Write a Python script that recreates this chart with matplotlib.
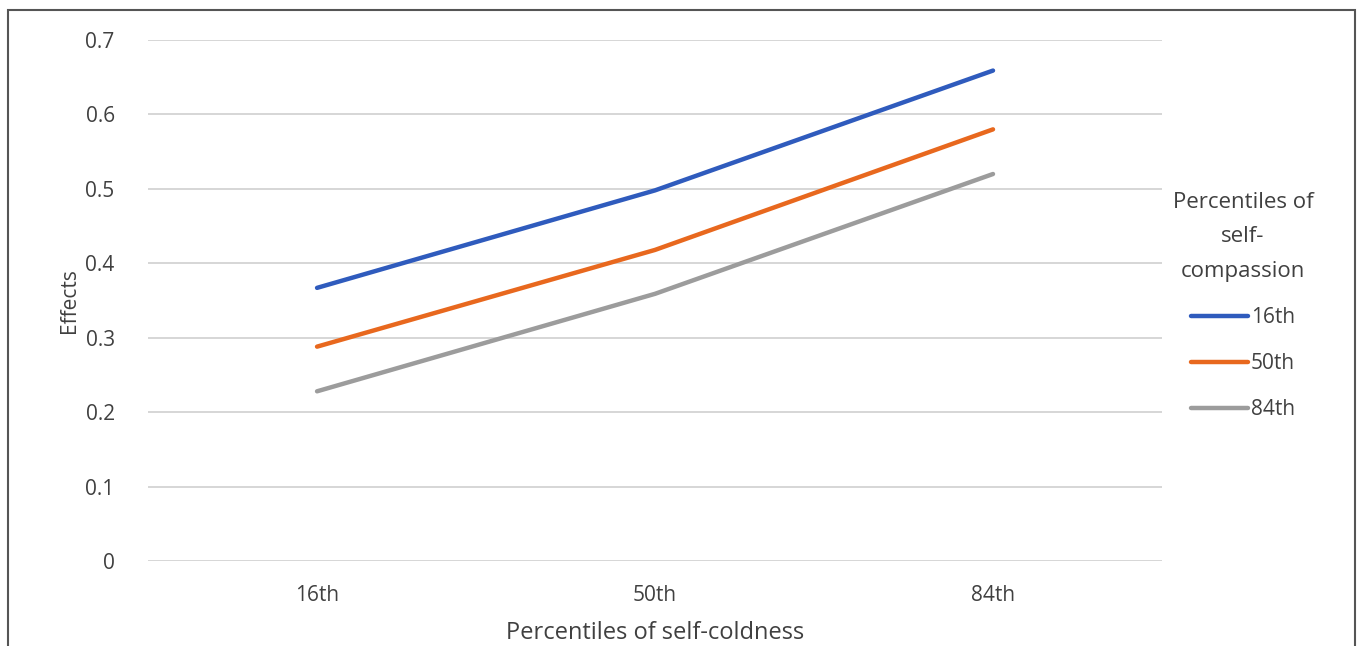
import matplotlib.pyplot as plt
from matplotlib.patches import Rectangle

plt.rcParams['font.family'] = ['Open Sans', 'DejaVu Sans']

categories = ["16th", "50th", "84th"]
series_names = ["16th", "50th", "84th"]
low_sc = [0.367, 0.498, 0.659]
mid_sc = [0.288, 0.418, 0.580]
high_sc = [0.228, 0.359, 0.520]
colors = ["#2f5bbd", "#e8681e", "#9c9c9c"]

fig = plt.figure(figsize=(13.57, 6.46), dpi=100)
ax = fig.add_axes([0.1091, 0.1316, 0.7472, 0.8064])

x = list(range(len(categories)))
for vals, name, c in zip([low_sc, mid_sc, high_sc], series_names, colors):
    ax.plot(x, vals, color=c, lw=3.2, label=name, solid_capstyle='round')

ax.set_xlim(-0.5, 2.5)
ax.set_ylim(0, 0.7)
ax.set_yticks([0, 0.1, 0.2, 0.3, 0.4, 0.5, 0.6, 0.7])
ax.set_yticklabels(["0", "0.1", "0.2", "0.3", "0.4", "0.5", "0.6", "0.7"])
ax.set_xticks(x)
ax.set_xticklabels(categories)
ax.grid(axis='y', color='#d0d0d0', lw=1.2)
ax.set_axisbelow(True)
for s in ax.spines.values():
    s.set_visible(False)
ax.tick_params(length=0, labelsize=15, colors='#404040', pad=17)
ax.tick_params(axis='y', pad=24)

ax.set_ylabel("Effects", fontsize=15, color='#404040', labelpad=4)
ax.set_xlabel("Percentiles of self-coldness", fontsize=17, color='#404040', labelpad=11)

leg = ax.legend(title="Percentiles of\nself-\ncompassion", loc='upper left',
                bbox_to_anchor=(0.992, 0.745), frameon=False, fontsize=15,
                title_fontsize=16, handlelength=2.75, handletextpad=0.15,
                labelspacing=1.2, alignment='center')
leg.get_title().set_color('#404040')
leg.get_title().set_multialignment('center')
leg.get_title().set_linespacing(1.85)
for t in leg.get_texts():
    t.set_color('#404040')

fig.patches.append(Rectangle((8 / 1357, -0.1), 1347 / 1357, 1.1 - 10 / 646,
                             transform=fig.transFigure, fill=False,
                             edgecolor='#555555', lw=1.5))

fig.savefig("out.png", dpi=100)
